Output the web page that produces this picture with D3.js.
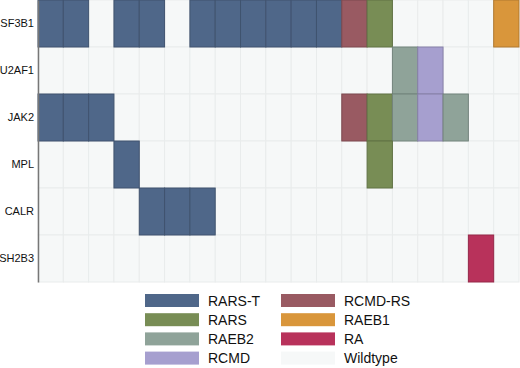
<!DOCTYPE html>
<meta charset="utf-8">
<style>
  body { margin: 0; background: #fff; }
  svg text { font-family: "Liberation Sans", Arial, sans-serif; }
</style>
<script src="https://d3js.org/d3.v7.min.js"></script>
<div id="my_dataviz"></div>
<script>
// genes (rows) and diagnosis per sample (19 columns); "" = wildtype
var genes = ["SF3B1", "U2AF1", "JAK2", "MPL", "CALR", "SH2B3"];
var samples = d3.range(1, 20);
var SF3B1 = ["RARS-T","RARS-T","","RARS-T","RARS-T","","RARS-T","RARS-T","RARS-T","RARS-T","RARS-T","RARS-T","RCMD-RS","RARS","","","","","RAEB1"];
var U2AF1 = ["","","","","","","","","","","","","","","RAEB2","RCMD","","",""];
var JAK2  = ["RARS-T","RARS-T","RARS-T","","","","","","","","","","RCMD-RS","RARS","RAEB2","RCMD","RAEB2","",""];
var MPL   = ["","","","RARS-T","","","","","","","","","","RARS","","","","",""];
var CALR  = ["","","","","RARS-T","RARS-T","RARS-T","","","","","","","","","","","",""];
var SH2B3 = ["","","","","","","","","","","","","","","","","","RA",""];
var categories = ["RARS-T", "RCMD-RS", "RARS", "RAEB1", "RAEB2", "RA", "RCMD", "Wildtype"];
var colors = ["#4f6789", "#995a62", "#788d55", "#d9963b", "#8fa399", "#b8325b", "#a69fcf", "#f6f8f8"];

var rows = { SF3B1: SF3B1, U2AF1: U2AF1, JAK2: JAK2, MPL: MPL, CALR: CALR, SH2B3: SH2B3 };

var margin = {top: 0, right: 1, bottom: 86, left: 38},
    width = 520 - margin.left - margin.right,
    height = 368 - margin.top - margin.bottom;

var svg = d3.select("#my_dataviz")
  .append("svg")
    .attr("width", 520)
    .attr("height", 368);

var g = svg.append("g")
    .attr("transform", "translate(" + margin.left + "," + margin.top + ")");

var x = d3.scaleBand().domain(samples).range([0, width]);
var y = d3.scaleBand().domain(genes).range([0, height]);
var color = d3.scaleOrdinal().domain(categories).range(colors);

var cells = [];
genes.forEach(function(gene) {
  rows[gene].forEach(function(v, i) {
    cells.push({ gene: gene, sample: samples[i], status: v === "" ? "Wildtype" : v });
  });
});

// wildtype background first, mutated cells on top
g.append("g").selectAll("rect")
  .data(cells.filter(function(d) { return d.status === "Wildtype"; }))
  .enter().append("rect")
    .attr("x", function(d) { return x(d.sample); })
    .attr("y", function(d) { return y(d.gene); })
    .attr("width", x.bandwidth())
    .attr("height", y.bandwidth())
    .attr("fill", color("Wildtype"))
    .attr("stroke", "#e9ecec")
    .attr("stroke-width", 1);

g.append("g").selectAll("rect")
  .data(cells.filter(function(d) { return d.status !== "Wildtype"; }))
  .enter().append("rect")
    .attr("x", function(d) { return x(d.sample); })
    .attr("y", function(d) { return y(d.gene); })
    .attr("width", x.bandwidth())
    .attr("height", y.bandwidth())
    .attr("fill", function(d) { return color(d.status); })
    .attr("stroke", function(d) { return d3.color(color(d.status)).darker(0.6); })
    .attr("stroke-width", 1);

// left axis: line + gene labels
var yAxis = g.append("g")
  .call(d3.axisLeft(y).tickSize(0).tickPadding(4));
yAxis.select(".domain").attr("stroke", "#777").attr("stroke-width", 1.5);
yAxis.selectAll(".tick text")
  .style("font-family", "Liberation Sans, Arial, sans-serif")
  .style("font-size", "11px")
  .style("fill", "#111");

// legend, two columns
var legend = svg.append("g");
var legendOrder = ["RARS-T", "RARS", "RAEB2", "RCMD", "RCMD-RS", "RAEB1", "RA", "Wildtype"];
var item = legend.selectAll("g")
  .data(legendOrder)
  .enter().append("g")
    .attr("transform", function(d, i) {
      var col = Math.floor(i / 4), r = i % 4;
      return "translate(" + (145 + col * 136) + "," + (294 + r * 19.2) + ")";
    });
item.append("rect")
  .attr("width", 54)
  .attr("height", 13)
  .attr("fill", function(d) { return color(d); });
item.append("text")
  .attr("x", 63)
  .attr("y", 11.5)
  .style("font-size", "14px")
  .style("fill", "#111")
  .text(function(d) { return d; });
</script>
